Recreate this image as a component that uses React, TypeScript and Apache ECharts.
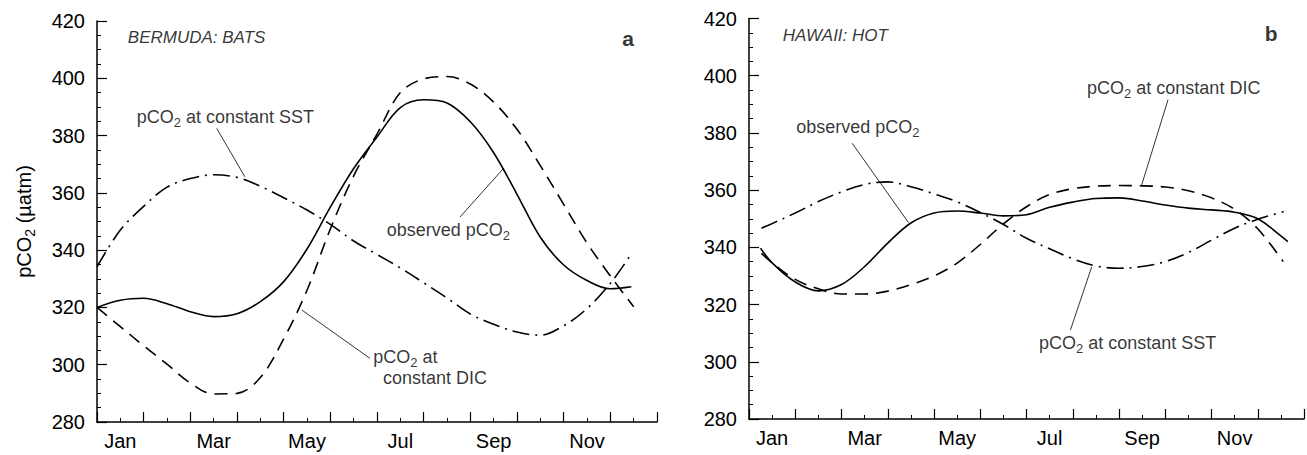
import React, { useEffect, useRef } from "react";
import * as echarts from "echarts";

// ---------- data ----------
const monthLabels = ["Jan", "Feb", "Mar", "Apr", "May", "Jun", "Jul", "Aug", "Sep", "Oct", "Nov", "Dec"];
const yMin = 280;
const yMax = 420;
const yStep = 20;

// Panel a: Bermuda BATS (x in months since Jan 1)
const batsObsX = [0, 0.5, 1, 1.5, 2, 2.5, 3, 3.5, 4, 4.5, 5, 5.5, 6, 6.5, 7, 7.5, 8, 8.5, 9, 9.5, 10, 10.5, 11, 11.45];
const batsObsY = [320, 322.5, 323.2, 321.3, 318.5, 316.8, 317.8, 322, 329, 340.4, 355, 368.5, 379.5, 389.8, 392.5, 391.4, 384.8, 374, 359.5, 344.5, 334.8, 329.4, 326.5, 327.2];

const batsDicX = [0, 0.5, 1, 1.5, 2, 2.5, 3, 3.5, 4, 4.5, 5, 5.5, 6, 6.5, 7, 7.5, 8, 8.5, 9, 9.5, 10, 10.5, 11, 11.5];
const batsDicY = [320, 313.3, 306.6, 300.2, 293.6, 289.8, 290, 295.5, 309, 326, 347.4, 365.9, 380.5, 395, 399.8, 400.6, 398, 391.7, 382.2, 369.5, 356, 342.5, 331, 320.2];

const batsSstX = [0, 0.5, 1, 1.5, 2, 2.5, 3, 3.5, 4, 4.5, 5, 5.5, 6, 6.5, 7, 7.5, 8, 8.5, 9, 9.5, 10, 10.5, 11, 11.4];
const batsSstY = [334.2, 347, 355.3, 362, 365, 366.3, 365.4, 362.3, 358.3, 354, 349, 343.2, 338.5, 333.8, 328.6, 323.3, 317.7, 314.1, 311.4, 310.3, 313.6, 319.6, 328.4, 337.5];

// Panel b: Hawaii HOT
const hotObsX = [0.25, 0.5, 1, 1.5, 2, 2.5, 3, 3.5, 4, 4.5, 5, 5.5, 6, 6.5, 7, 7.5, 8, 8.5, 9, 9.5, 10, 10.5, 11, 11.5, 11.65];
const hotObsY = [339.7, 334.6, 327.9, 324.8, 327, 333.3, 341.5, 348.5, 352, 352.7, 352, 351, 351.4, 354, 355.8, 357.1, 357.3, 356.2, 354.8, 353.7, 353.1, 352.3, 350, 344, 342];

const hotDicX = [0.27, 0.5, 1, 1.5, 2, 2.5, 3, 3.5, 4, 4.5, 5, 5.5, 6, 6.5, 7, 7.5, 8, 8.5, 9, 9.5, 10, 10.5, 11, 11.55];
const hotDicY = [337.9, 334.6, 328.8, 325.5, 323.7, 323.7, 324.7, 327, 330, 334.5, 341, 348.2, 354.2, 358.5, 360.5, 361.4, 361.6, 361.5, 361.1, 359.8, 357.3, 353.3, 346.5, 335];

const hotSstX = [0.27, 0.5, 1, 1.5, 2, 2.5, 3, 3.5, 4, 4.5, 5, 5.5, 6, 6.5, 7, 7.5, 8, 8.5, 9, 9.5, 10, 10.5, 11, 11.56];
const hotSstY = [346.7, 348.3, 352, 356, 359.4, 362, 362.9, 361.2, 358.7, 355.9, 352.2, 348, 343.2, 339.5, 336, 333.5, 332.7, 333.3, 335, 338.2, 342.5, 346.7, 349.8, 352.5];

// ---------- styling helpers ----------
const FONT = "'Liberation Sans', Arial, Helvetica, sans-serif";
const INK = "#000";

const zip = (xs: number[], ys: number[]) => xs.map((x, i) => [x, ys[i]]);
const pco2 = (rest: string) => `{t|pCO}{s|2}{t|${rest}}`;

const noteRich = {
  t: { fontSize: 18, lineHeight: 24, color: INK, fontFamily: FONT },
  s: { fontSize: 13, lineHeight: 13, verticalAlign: "bottom", color: INK, fontFamily: FONT },
  it: { fontSize: 17, lineHeight: 24, color: INK, fontFamily: FONT, fontStyle: "italic" },
  b: { fontSize: 21, lineHeight: 24, color: INK, fontFamily: FONT, fontWeight: "bold" },
};

// annotation anchors (data coordinates)
const batsNotes = [
  { x: 0.66, y: 414.3, txt: "{it|BERMUDA: BATS}", align: "left" },
  { x: 11.38, y: 413.8, txt: "{b|a}", align: "center" },
  { x: 0.85, y: 386.5, txt: pco2(" at constant SST"), align: "left" },
  { x: 6.21, y: 347, txt: "{t|observed }" + pco2(""), align: "left" },
  { x: 5.92, y: 302.8, txt: pco2(" at"), align: "left" },
  { x: 6.13, y: 295.2, txt: "{t|constant DIC}", align: "left" },
];
const batsLeaders = [
  [[2.565, 382.5], [3.17, 365.6]],
  [[7.78, 351.6], [8.71, 368.5]],
  [[4.39, 319.1], [5.85, 302.2]],
];

const hotNotes = [
  { x: 0.73, y: 414, txt: "{it|HAWAII: HOT}", align: "left" },
  { x: 11.29, y: 414.7, txt: "{b|b}", align: "center" },
  { x: 1.02, y: 382.2, txt: "{t|observed }" + pco2(""), align: "left" },
  { x: 7.31, y: 395.7, txt: pco2(" at constant DIC"), align: "left" },
  { x: 6.27, y: 306.4, txt: pco2(" at constant SST"), align: "left" },
];
const hotLeaders = [
  [[2.23, 376.4], [3.45, 348.6]],
  [[9.06, 391.6], [8.49, 361.8]],
  [[7.41, 333.2], [6.95, 311.1]],
];

function monthFormatter(v: number) {
  const i = v - 0.5;
  if (Number.isInteger(i) && i >= 0 && i % 2 === 0 && i < monthLabels.length) return monthLabels[i];
  return "";
}

function xAxesFor(gridIndex: number) {
  return [
    {
      gridIndex,
      type: "value",
      position: "bottom",
      min: 0,
      max: 12,
      interval: 1,
      axisLine: { show: true, onZero: false, lineStyle: { color: INK, width: 1.5 } },
      axisTick: { show: true, inside: true, length: 10, lineStyle: { color: INK, width: 1.2 } },
      minorTick: { show: true, splitNumber: 2, length: 4, lineStyle: { color: INK, width: 1 } },
      axisLabel: { show: false },
      splitLine: { show: false },
    },
    {
      gridIndex,
      type: "value",
      position: "bottom",
      min: 0,
      max: 12,
      interval: 0.5,
      axisLine: { show: false },
      axisTick: { show: false },
      axisLabel: {
        show: true,
        formatter: monthFormatter,
        fontSize: 20,
        color: INK,
        fontFamily: FONT,
        margin: 9,
        hideOverlap: false,
      },
      splitLine: { show: false },
    },
  ];
}

function yAxisFor(gridIndex: number, withName: boolean) {
  const ax: any = {
    gridIndex,
    type: "value",
    min: yMin,
    max: yMax,
    interval: yStep,
    axisLine: { show: true, onZero: false, lineStyle: { color: INK, width: 1.5 } },
    axisTick: { show: true, inside: true, length: 10, lineStyle: { color: INK, width: 1.2 } },
    minorTick: { show: true, splitNumber: 4, length: 4, lineStyle: { color: INK, width: 1 } },
    axisLabel: { fontSize: 20, color: INK, fontFamily: FONT, margin: 12 },
    splitLine: { show: false },
  };
  if (withName) {
    ax.name = "{t|pCO}{s|2}{t| (µatm)}";
    ax.nameLocation = "middle";
    ax.nameRotate = 90;
    ax.nameGap = 60;
    ax.nameTextStyle = {
      rich: {
        t: { fontSize: 20, lineHeight: 26, color: INK, fontFamily: FONT },
        s: { fontSize: 14, lineHeight: 14, verticalAlign: "bottom", color: INK, fontFamily: FONT },
      },
    };
  }
  return ax;
}

function curveSeries(xi: number, yi: number, data: number[][], type: any, width = 1.6) {
  return {
    type: "line",
    xAxisIndex: xi,
    yAxisIndex: yi,
    data,
    smooth: 0.35,
    showSymbol: false,
    symbol: "none",
    silent: true,
    lineStyle: { color: INK, width, type },
  };
}

function leaderSeries(xi: number, yi: number, seg: number[][]) {
  return {
    type: "line",
    xAxisIndex: xi,
    yAxisIndex: yi,
    data: seg,
    showSymbol: false,
    symbol: "none",
    silent: true,
    lineStyle: { color: INK, width: 0.8, type: "solid" },
  };
}

function notesSeries(xi: number, yi: number, notes: any[]) {
  return {
    type: "scatter",
    xAxisIndex: xi,
    yAxisIndex: yi,
    symbolSize: 0.1,
    silent: true,
    itemStyle: { color: "rgba(0,0,0,0)" },
    data: notes.map((n) => ({
      value: [n.x, n.y],
      txt: n.txt,
      label: { show: true, position: "inside", align: n.align, verticalAlign: "middle" },
    })),
    label: {
      show: true,
      formatter: (p: any) => p.data.txt,
      rich: noteRich,
    },
  };
}

const DASH = [13, 8];
const DASHDOT = [17, 6, 2, 6];

export default function App() {
  const ref = useRef<HTMLDivElement>(null);
  useEffect(() => {
    if (!ref.current) return;
    const chart = echarts.init(ref.current, undefined, { renderer: "svg" });
    const option: any = {
      animation: false,
      backgroundColor: "#fff",
      textStyle: { fontFamily: FONT },
      grid: [
        { left: 97, top: 21, width: 560, height: 401 },
        { left: 749, top: 18.5, width: 560, height: 400.5 },
      ],
      xAxis: [...xAxesFor(0), ...xAxesFor(1)],
      yAxis: [yAxisFor(0, true), yAxisFor(1, false)],
      series: [
        curveSeries(0, 0, zip(batsObsX, batsObsY), "solid"),
        curveSeries(0, 0, zip(batsDicX, batsDicY), DASH),
        curveSeries(0, 0, zip(batsSstX, batsSstY), DASHDOT),
        ...batsLeaders.map((s) => leaderSeries(0, 0, s)),
        notesSeries(0, 0, batsNotes),
        curveSeries(2, 1, zip(hotObsX, hotObsY), "solid"),
        curveSeries(2, 1, zip(hotDicX, hotDicY), DASH),
        curveSeries(2, 1, zip(hotSstX, hotSstY), DASHDOT),
        ...hotLeaders.map((s) => leaderSeries(2, 1, s)),
        notesSeries(2, 1, hotNotes),
      ],
    };
    chart.setOption(option);
    return () => chart.dispose();
  }, []);
  return (
    <div
      ref={ref}
      style={{ position: "fixed", left: 0, top: 0, width: 1307, height: 455, background: "#fff" }}
    />
  );
}
